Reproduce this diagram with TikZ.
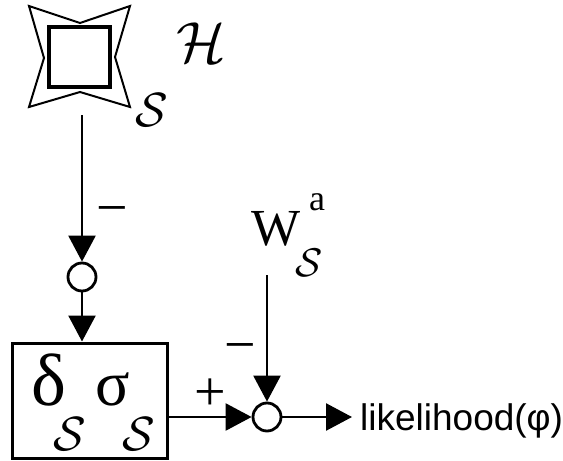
\documentclass[tikz,border=0pt]{standalone}
\usepackage{fix-cm}
\usepackage{fontspec}
\newfontfamily\timesfont{Liberation Serif}
\newfontfamily\arialfont{Liberation Sans}
\usetikzlibrary{arrows.meta}
\begin{document}
\begin{tikzpicture}[x=1pt,y=-1pt,line join=miter,
  >={Triangle[length=26pt,width=27pt]},
  sumpt/.style={circle,draw,line width=2.8pt,minimum size=28pt,inner sep=0pt,fill=white},
  flow/.style={->,line width=2.5pt},
  sgn/.style={font=\timesfont\fontsize{56}{56}\selectfont,inner sep=0pt},
  calS/.style={font=\fontsize{48}{48}\selectfont,inner sep=0pt}]
  \useasboundingbox (0,0) rectangle (563,461);
  % The star-shaped source with its square.
  \draw[line width=2pt] (29,6)--(80,23)--(130,6)--(115,57)--(130,107)
        --(80,92)--(29,107)--(44,58)--cycle;
  \draw[line width=3.5pt] (49,27) rectangle (110,87);
  \coordinate (star) at (80,57);
  \coordinate (hs) at (82,115);
  \node[font=\fontsize{58}{58}\selectfont,inner sep=0pt] (hlab) at (201,43) {$\mathcal{H}$};
  \node[calS] (slab) at (152,110) {$\mathcal{S}$};
  % Summing points and the block.
  \node[sumpt] (sum1) at (82,277) {};
  \node[draw,line width=3pt,minimum width=155pt,minimum height=115pt,inner sep=0pt]
        (blk) at (89.5,400.5) {};
  \node[sumpt] (sum2) at (267,417) {};
  \node[font=\timesfont\fontsize{74}{74}\selectfont,inner sep=0pt,text depth=0pt,
        anchor=base west] (delta) at (31,405) {δ};
  \node[font=\timesfont\fontsize{64}{64}\selectfont,inner sep=0pt,text depth=0pt,
        anchor=base west] (sigma) at (95,405) {σ};
  \node[calS] (sd) at (70,434) {$\mathcal{S}$};
  \node[calS] (ss) at (139,434) {$\mathcal{S}$};
  % Reference input W.
  \node[font=\timesfont\fontsize{52}{52}\selectfont,inner sep=0pt,anchor=base west]
        (wlab) at (251,245) {W};
  \node[font=\timesfont\fontsize{36}{36}\selectfont,inner sep=0pt,anchor=base west]
        (alab) at (309,210) {a};
  \node[font=\fontsize{40}{40}\selectfont,inner sep=0pt] (sw) at (309,263) {$\mathcal{S}$};
  \coordinate (wtop) at (267,275);
  \coordinate (out) at (352,417);
  \node[font=\arialfont\fontsize{37}{37}\selectfont,inner sep=0pt,anchor=base west]
        (lik) at (360,430) {likelihood(φ)};
  % Connectors.
  \draw[flow] (hs) -- (sum1);
  \draw[flow] (sum1) -- (sum1 |- blk.north);
  \draw[flow] (blk.east |- sum2) -- (sum2);
  \draw[flow] (wtop) -- (sum2);
  \draw[flow] (sum2) -- (out);
  \node[sgn] (m1) at (112,217) {−};
  \node[sgn] (p2) at (210,395) {+};
  \node[sgn] (m2) at (240,354) {−};
\end{tikzpicture}
\end{document}
